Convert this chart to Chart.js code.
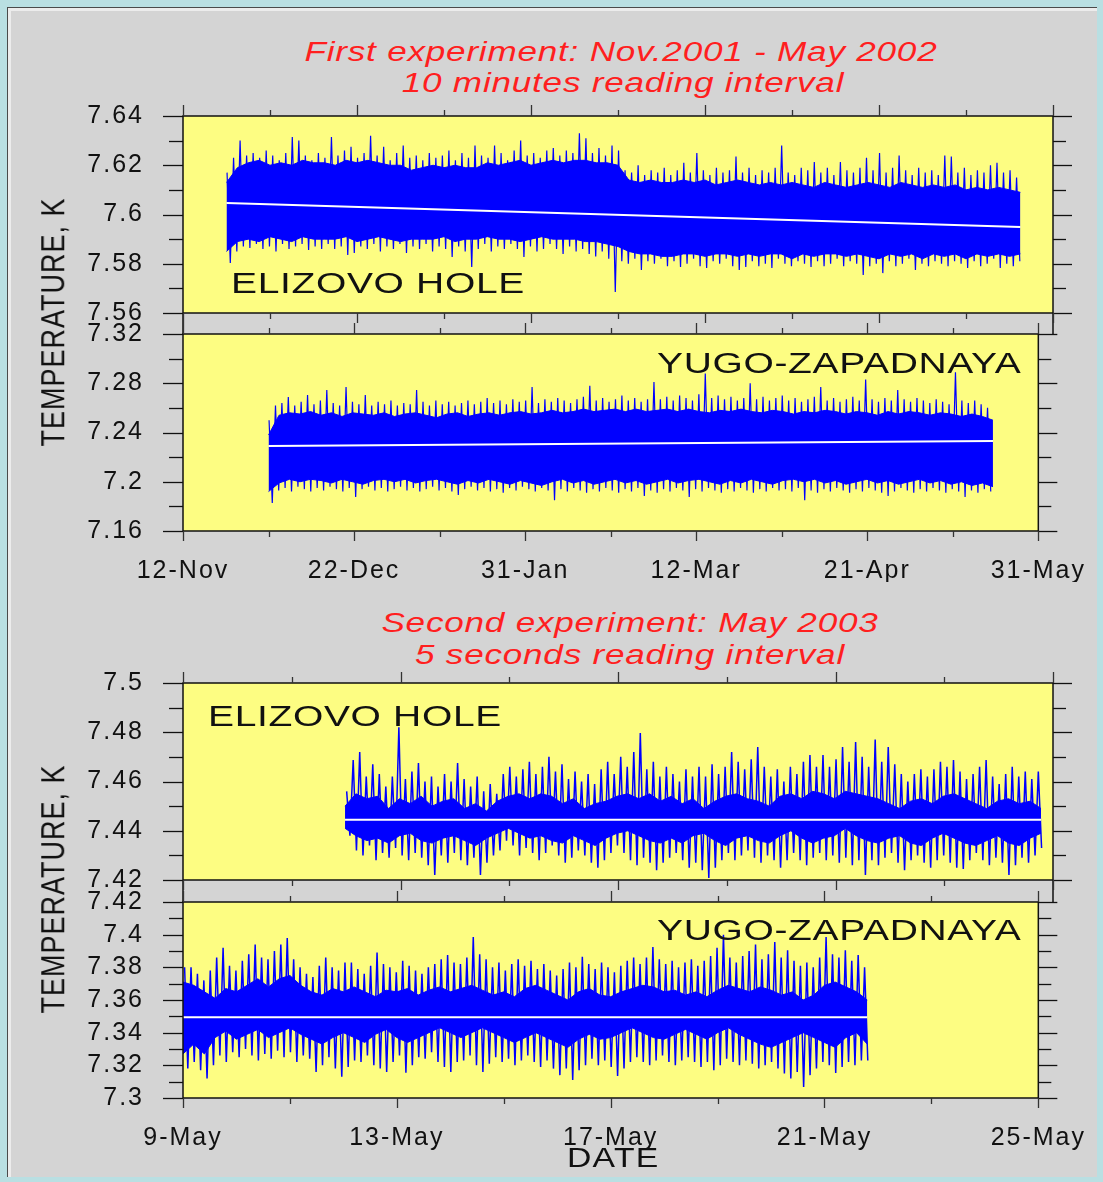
<!DOCTYPE html>
<html>
<head>
<meta charset="utf-8">
<script src="https://cdn.jsdelivr.net/npm/chart.js@4.4.0/dist/chart.umd.min.js"></script>
<style>
  html, body { margin: 0; padding: 0; }
  body { width: 1103px; height: 1182px; background: #b9dfe2; position: relative; overflow: hidden;
         font-family: "Liberation Sans", Arial, sans-serif; }
  #frame { position: absolute; left: 7px; top: 7px; width: 1089px; height: 1169px; background: #d4d4d4;
           border-left: 1px solid #4a4a4a; border-top: 1px solid #4a4a4a; box-shadow: inset 3px 3px 0 #ececec; }
  canvas { position: absolute; left: 0; }
  .ttl { position: absolute; width: 800px; text-align: center; color: #ff1f1f; font-style: italic;
         font-size: 27px; line-height: 30px; letter-spacing: 0.6px; white-space: nowrap;
         transform: scaleX(1.3); transform-origin: center; }
  .site { position: absolute; color: #111; font-size: 30px; line-height: 30px; letter-spacing: 0.5px; white-space: nowrap;
          transform: scaleX(1.3); transform-origin: left center; }
  .ytitle { position: absolute; width: 300px; text-align: center; color: #111; font-size: 27px; line-height: 30px;
            letter-spacing: 1px; transform: rotate(-90deg) scaleY(1.25); white-space: nowrap; }
  .xtitle { position: absolute; color: #111; font-size: 27px; line-height: 30px; letter-spacing: 1px;
            transform: scaleX(1.25); transform-origin: left center; }
</style>
</head>
<body>
<div id="frame"></div>

<div class="ttl" style="left:221px;top:37px">First experiment: Nov.2001 - May 2002</div>
<div class="ttl" style="left:223px;top:68px">10 minutes reading interval</div>
<div class="ttl" style="left:230px;top:608px">Second experiment: May 2003</div>
<div class="ttl" style="left:230px;top:640px">5 seconds reading interval</div>

<canvas id="p1" width="1103" height="297" style="top:66px"></canvas>
<canvas id="p2" width="1103" height="298" style="top:284px"></canvas>
<canvas id="p3" width="1103" height="297" style="top:633px"></canvas>
<canvas id="p4" width="1103" height="298" style="top:852px"></canvas>

<div class="site" style="left:231px;top:268px">ELIZOVO HOLE</div>
<div class="site" style="left:657px;top:348px">YUGO-ZAPADNAYA</div>
<div class="site" style="left:208px;top:701px">ELIZOVO HOLE</div>
<div class="site" style="left:657px;top:915px">YUGO-ZAPADNAYA</div>

<div class="ytitle" style="left:-97px;top:307px">TEMPERATURE, K</div>
<div class="ytitle" style="left:-97px;top:874px">TEMPERATURE, K</div>
<div class="xtitle" style="left:567px;top:1143px">DATE</div>

<script>
'use strict';

// ---- x axis (days from first tick) ----
const topXMajor = [0, 40, 80, 120, 160, 200];
const topXMinor = [20, 60, 100, 140, 180];
const topXLabels = ['12-Nov', '22-Dec', '31-Jan', '12-Mar', '21-Apr', '31-May'];
const botXMajor = [0, 4, 8, 12, 16];
const botXMinor = [2, 6, 10, 14];
const botXLabels = ['9-May', '13-May', '17-May', '21-May', '25-May'];

// ---- y axis ticks ----
const yTicks1 = [7.56, 7.58, 7.6, 7.62, 7.64];
const yLabels1 = ['7.56', '7.58', '7.6', '7.62', '7.64'];
const yMinor1 = [7.57, 7.59, 7.61, 7.63];
const yTicks2 = [7.16, 7.2, 7.24, 7.28, 7.32];
const yLabels2 = ['7.16', '7.2', '7.24', '7.28', '7.32'];
const yMinor2 = [7.18, 7.22, 7.26, 7.30];
const yTicks3 = [7.42, 7.44, 7.46, 7.48, 7.5];
const yLabels3 = ['7.42', '7.44', '7.46', '7.48', '7.5'];
const yMinor3 = [7.43, 7.45, 7.47, 7.49];
const yTicks4 = [7.3, 7.32, 7.34, 7.36, 7.38, 7.4, 7.42];
const yLabels4 = ['7.3', '7.32', '7.34', '7.36', '7.38', '7.4', '7.42'];
const yMinor4 = [7.31, 7.33, 7.35, 7.37, 7.39, 7.41];

// ---- panel 1: Elizovo hole, 10 min readings ----
// dense core of the trace, every 2.5 days from day 10
const coreStart1 = 10, coreStep1 = 2.5;
const coreHigh1 = [7.613, 7.619, 7.621, 7.622, 7.620, 7.621, 7.620, 7.622, 7.621, 7.621, 7.620, 7.622, 7.621, 7.622, 7.621, 7.620,
  7.620, 7.618, 7.619, 7.620, 7.619, 7.620, 7.619, 7.619, 7.621, 7.620, 7.621, 7.622, 7.620, 7.621, 7.622, 7.621,
  7.622, 7.622, 7.621, 7.621, 7.620, 7.614, 7.613, 7.614, 7.613, 7.613, 7.614, 7.613, 7.614, 7.612, 7.613, 7.614,
  7.613, 7.612, 7.613, 7.612, 7.613, 7.612, 7.611, 7.613, 7.612, 7.611, 7.612, 7.613, 7.612, 7.611, 7.613, 7.612,
  7.611, 7.612, 7.611, 7.612, 7.610, 7.611, 7.610, 7.611, 7.610, 7.609];
const coreLow1 = [7.585, 7.589, 7.590, 7.589, 7.591, 7.590, 7.589, 7.591, 7.590, 7.590, 7.590, 7.591, 7.589, 7.590, 7.591, 7.590,
  7.589, 7.590, 7.590, 7.590, 7.591, 7.589, 7.590, 7.590, 7.591, 7.590, 7.590, 7.589, 7.590, 7.591, 7.590, 7.590,
  7.590, 7.589, 7.589, 7.588, 7.587, 7.585, 7.584, 7.584, 7.583, 7.583, 7.584, 7.584, 7.583, 7.584, 7.584, 7.583,
  7.584, 7.583, 7.584, 7.584, 7.582, 7.584, 7.583, 7.584, 7.584, 7.583, 7.584, 7.583, 7.582, 7.584, 7.583, 7.584,
  7.582, 7.584, 7.583, 7.584, 7.582, 7.584, 7.583, 7.584, 7.583, 7.584];
// min / max of the readings in 1.5-day bins from day 10.5
const binStart1 = 10.5, binStep1 = 1.5;
const binHigh1 = [7.617, 7.623, 7.630, 7.624, 7.625, 7.623, 7.626, 7.624, 7.622, 7.625,
  7.6315, 7.630, 7.624, 7.622, 7.625, 7.623, 7.6315, 7.624, 7.626, 7.6275,
  7.623, 7.625, 7.632, 7.624, 7.6275, 7.622, 7.625, 7.628, 7.623, 7.624,
  7.622, 7.625, 7.623, 7.624, 7.626, 7.622, 7.625, 7.623, 7.628, 7.624,
  7.623, 7.628, 7.625, 7.622, 7.626, 7.630, 7.624, 7.625, 7.623, 7.626,
  7.627, 7.624, 7.626, 7.625, 7.633, 7.631, 7.625, 7.627, 7.624, 7.628,
  7.626, 7.618, 7.617, 7.620, 7.616, 7.618, 7.617, 7.619, 7.616, 7.618,
  7.621, 7.617, 7.625, 7.618, 7.616, 7.619, 7.617, 7.618, 7.6235, 7.617,
  7.619, 7.616, 7.618, 7.617, 7.619, 7.628, 7.617, 7.616, 7.619, 7.618,
  7.6213, 7.617, 7.619, 7.616, 7.6213, 7.618, 7.617, 7.619, 7.623, 7.618,
  7.625, 7.617, 7.619, 7.624, 7.618, 7.616, 7.619, 7.617, 7.618, 7.616,
  7.624, 7.6235, 7.617, 7.619, 7.616, 7.618, 7.617, 7.620, 7.621, 7.617,
  7.618, 7.615];
const binLow1 = [7.5803, 7.585, 7.587, 7.5864, 7.588, 7.586, 7.587, 7.585, 7.588, 7.586,
  7.587, 7.588, 7.5856, 7.587, 7.586, 7.588, 7.586, 7.587, 7.5836, 7.5844,
  7.587, 7.586, 7.588, 7.585, 7.587, 7.586, 7.588, 7.5844, 7.587, 7.586,
  7.588, 7.585, 7.587, 7.586, 7.5827, 7.587, 7.585, 7.5787, 7.586, 7.588,
  7.585, 7.587, 7.586, 7.588, 7.586, 7.5827, 7.587, 7.585, 7.586, 7.588,
  7.586, 7.584, 7.587, 7.585, 7.586, 7.584, 7.583, 7.585, 7.582, 7.5685,
  7.581, 7.580, 7.582, 7.5775, 7.581, 7.580, 7.582, 7.579, 7.581, 7.5787,
  7.580, 7.582, 7.579, 7.5783, 7.581, 7.580, 7.582, 7.579, 7.5775, 7.5787,
  7.581, 7.579, 7.580, 7.5783, 7.582, 7.580, 7.579, 7.581, 7.580, 7.5787,
  7.581, 7.579, 7.580, 7.582, 7.579, 7.581, 7.580, 7.5754, 7.579, 7.580,
  7.5762, 7.581, 7.579, 7.580, 7.582, 7.5775, 7.580, 7.579, 7.581, 7.580,
  7.579, 7.581, 7.580, 7.5783, 7.581, 7.579, 7.580, 7.582, 7.5783, 7.580,
  7.579, 7.581];
const trendDays1 = [10, 192.5];
const trend1 = [7.6047, 7.5949];

// ---- panel 2: Yugo-Zapadnaya, 10 min readings ----
const coreStart2 = 20, coreStep2 = 2.455;
const coreHigh2 = [7.238, 7.254, 7.256, 7.255, 7.257, 7.254, 7.256, 7.253, 7.256, 7.255, 7.254, 7.256, 7.253, 7.255, 7.256, 7.254,
  7.252, 7.255, 7.256, 7.253, 7.255, 7.256, 7.254, 7.256, 7.257, 7.255, 7.256, 7.258, 7.256, 7.257, 7.259, 7.257,
  7.258, 7.259, 7.257, 7.259, 7.257, 7.258, 7.259, 7.257, 7.259, 7.257, 7.256, 7.258, 7.257, 7.259, 7.257, 7.256,
  7.258, 7.257, 7.255, 7.257, 7.256, 7.258, 7.257, 7.255, 7.257, 7.256, 7.254, 7.257, 7.255, 7.257, 7.256, 7.254,
  7.256, 7.255, 7.253, 7.255, 7.253, 7.250];
const coreLow2 = [7.192, 7.199, 7.202, 7.200, 7.202, 7.201, 7.199, 7.202, 7.200, 7.198, 7.201, 7.202, 7.200, 7.202, 7.199, 7.201,
  7.202, 7.200, 7.198, 7.201, 7.199, 7.202, 7.200, 7.198, 7.201, 7.199, 7.197, 7.200, 7.202, 7.199, 7.201, 7.198,
  7.200, 7.202, 7.199, 7.201, 7.198, 7.200, 7.202, 7.199, 7.201, 7.202, 7.200, 7.198, 7.201, 7.199, 7.202, 7.200,
  7.198, 7.201, 7.202, 7.200, 7.202, 7.199, 7.201, 7.198, 7.200, 7.202, 7.199, 7.201, 7.198, 7.200, 7.202, 7.199,
  7.201, 7.198, 7.200, 7.197, 7.199, 7.196];
const binStart2 = 20.5, binStep2 = 1.5;
const binHigh2 = [7.250, 7.262, 7.264, 7.2688, 7.262, 7.265, 7.2705, 7.263, 7.266, 7.2745,
  7.264, 7.262, 7.277, 7.265, 7.263, 7.2705, 7.262, 7.265, 7.263, 7.266,
  7.262, 7.264, 7.263, 7.2745, 7.265, 7.262, 7.266, 7.263, 7.265, 7.262,
  7.264, 7.266, 7.263, 7.265, 7.268, 7.264, 7.266, 7.263, 7.267, 7.265,
  7.266, 7.277, 7.264, 7.267, 7.265, 7.268, 7.266, 7.264, 7.267, 7.269,
  7.278, 7.266, 7.268, 7.265, 7.267, 7.270, 7.266, 7.268, 7.265, 7.267,
  7.281, 7.267, 7.269, 7.266, 7.270, 7.268, 7.266, 7.271, 7.288, 7.268,
  7.270, 7.267, 7.269, 7.266, 7.268, 7.280, 7.267, 7.269, 7.266, 7.268,
  7.270, 7.266, 7.268, 7.265, 7.267, 7.269, 7.277, 7.266, 7.268, 7.265,
  7.267, 7.269, 7.266, 7.283, 7.267, 7.265, 7.268, 7.266, 7.2745, 7.267,
  7.265, 7.268, 7.266, 7.264, 7.267, 7.265, 7.263, 7.289, 7.266, 7.264,
  7.266, 7.263, 7.260];
const binLow2 = [7.1827, 7.193, 7.195, 7.192, 7.196, 7.194, 7.192, 7.195, 7.193, 7.196,
  7.194, 7.192, 7.195, 7.1876, 7.194, 7.196, 7.193, 7.195, 7.192, 7.194,
  7.196, 7.193, 7.195, 7.192, 7.194, 7.196, 7.193, 7.195, 7.192, 7.1892,
  7.194, 7.196, 7.193, 7.195, 7.192, 7.194, 7.191, 7.195, 7.193, 7.196,
  7.194, 7.192, 7.195, 7.193, 7.185, 7.194, 7.192, 7.195, 7.193, 7.191,
  7.194, 7.192, 7.195, 7.193, 7.191, 7.194, 7.192, 7.195, 7.1884, 7.193,
  7.191, 7.194, 7.192, 7.195, 7.193, 7.1876, 7.194, 7.192, 7.195, 7.193,
  7.191, 7.194, 7.192, 7.195, 7.193, 7.191, 7.194, 7.192, 7.195, 7.193,
  7.194, 7.192, 7.195, 7.185, 7.193, 7.191, 7.194, 7.192, 7.195, 7.193,
  7.191, 7.194, 7.192, 7.195, 7.193, 7.191, 7.1884, 7.192, 7.195, 7.193,
  7.191, 7.194, 7.192, 7.195, 7.193, 7.191, 7.194, 7.192, 7.1876, 7.193,
  7.191, 7.194, 7.192];
const trendDays2 = [20, 189.4];
const trend2 = [7.229, 7.233];

// ---- panel 3: Elizovo hole, 5 s readings ----
const coreStart3 = 2.98, coreStep3 = 0.2;
const coreHigh3 = [7.450, 7.455, 7.453, 7.454, 7.449, 7.453, 7.451, 7.454, 7.450, 7.452, 7.453, 7.449, 7.451, 7.448, 7.452, 7.454,
  7.455, 7.453, 7.455, 7.454, 7.451, 7.453, 7.449, 7.451, 7.452, 7.454, 7.455, 7.453, 7.455, 7.452, 7.454, 7.451,
  7.453, 7.449, 7.452, 7.454, 7.455, 7.453, 7.452, 7.450, 7.454, 7.455, 7.453, 7.456, 7.455, 7.453, 7.456, 7.455,
  7.454, 7.453, 7.451, 7.449, 7.452, 7.453, 7.451, 7.454, 7.455, 7.453, 7.451, 7.449, 7.452, 7.453, 7.451, 7.452, 7.449];
const coreLow3 = [7.441, 7.438, 7.436, 7.437, 7.435, 7.438, 7.439, 7.436, 7.435, 7.437, 7.438, 7.436, 7.434, 7.437, 7.439, 7.441,
  7.439, 7.437, 7.438, 7.436, 7.435, 7.438, 7.436, 7.434, 7.437, 7.439, 7.440, 7.438, 7.436, 7.435, 7.437, 7.435,
  7.438, 7.439, 7.436, 7.434, 7.437, 7.438, 7.436, 7.435, 7.438, 7.440, 7.437, 7.435, 7.437, 7.438, 7.441, 7.438,
  7.436, 7.435, 7.437, 7.438, 7.435, 7.434, 7.437, 7.439, 7.437, 7.435, 7.434, 7.436, 7.438, 7.435, 7.434, 7.437, 7.439];
const binStart3 = 3.04, binStep3 = 0.12;
const binHigh3 = [7.456, 7.4687, 7.472, 7.462, 7.467, 7.463, 7.458, 7.462, 7.482, 7.461,
  7.464, 7.4675, 7.460, 7.462, 7.458, 7.463, 7.460, 7.4675, 7.461, 7.458,
  7.462, 7.456, 7.459, 7.455, 7.463, 7.466, 7.462, 7.465, 7.468, 7.463,
  7.466, 7.470, 7.464, 7.467, 7.461, 7.464, 7.460, 7.463, 7.459, 7.465,
  7.468, 7.463, 7.470, 7.466, 7.472, 7.4797, 7.465, 7.468, 7.462, 7.466,
  7.463, 7.460, 7.465, 7.462, 7.466, 7.462, 7.467, 7.463, 7.466, 7.472,
  7.468, 7.465, 7.469, 7.474, 7.466, 7.462, 7.465, 7.460, 7.466, 7.463,
  7.468, 7.4708, 7.466, 7.4708, 7.466, 7.469, 7.474, 7.468, 7.476, 7.470,
  7.466, 7.477, 7.468, 7.474, 7.467, 7.463, 7.460, 7.463, 7.465, 7.462,
  7.465, 7.468, 7.466, 7.4687, 7.464, 7.461, 7.463, 7.466, 7.4687, 7.462,
  7.459, 7.463, 7.466, 7.462, 7.464, 7.461, 7.464];
const binLow3 = [7.438, 7.432, 7.430, 7.434, 7.428, 7.431, 7.429, 7.433, 7.430, 7.428,
  7.431, 7.429, 7.426, 7.422, 7.430, 7.427, 7.431, 7.428, 7.426, 7.429,
  7.422, 7.427, 7.430, 7.432, 7.436, 7.434, 7.430, 7.433, 7.431, 7.428,
  7.431, 7.434, 7.430, 7.427, 7.429, 7.432, 7.430, 7.427, 7.425, 7.428,
  7.431, 7.434, 7.431, 7.428, 7.426, 7.429, 7.427, 7.424, 7.427, 7.429,
  7.431, 7.428, 7.425, 7.427, 7.424, 7.4208, 7.425, 7.428, 7.431, 7.428,
  7.430, 7.432, 7.429, 7.427, 7.430, 7.428, 7.425, 7.428, 7.431, 7.428,
  7.426, 7.429, 7.431, 7.428, 7.430, 7.427, 7.429, 7.426, 7.428, 7.422,
  7.428, 7.426, 7.429, 7.431, 7.427, 7.424, 7.428, 7.430, 7.427, 7.425,
  7.428, 7.430, 7.427, 7.425, 7.4245, 7.428, 7.431, 7.428, 7.426, 7.429,
  7.427, 7.422, 7.426, 7.429, 7.427, 7.430, 7.433];
const trendDays3 = [2.98, 15.78];
const trend3 = [7.4445, 7.4445];

// ---- panel 4: Yugo-Zapadnaya, 5 s readings ----
const coreStart4 = 0, coreStep4 = 0.2;
const coreHigh4 = [7.371, 7.369, 7.365, 7.361, 7.367, 7.365, 7.369, 7.373, 7.368, 7.373, 7.375, 7.369, 7.365, 7.363, 7.367, 7.365,
  7.368, 7.365, 7.362, 7.366, 7.365, 7.367, 7.363, 7.366, 7.368, 7.365, 7.367, 7.369, 7.366, 7.363, 7.365, 7.362,
  7.367, 7.369, 7.366, 7.363, 7.360, 7.365, 7.367, 7.363, 7.362, 7.365, 7.367, 7.369, 7.368, 7.365, 7.366, 7.363,
  7.365, 7.362, 7.366, 7.369, 7.367, 7.365, 7.368, 7.366, 7.363, 7.365, 7.360, 7.363, 7.369, 7.371, 7.368, 7.365, 7.360];
const coreLow4 = [7.327, 7.333, 7.327, 7.337, 7.341, 7.336, 7.339, 7.342, 7.337, 7.340, 7.343, 7.339, 7.336, 7.333, 7.337, 7.340,
  7.337, 7.334, 7.339, 7.342, 7.337, 7.334, 7.337, 7.340, 7.343, 7.340, 7.337, 7.340, 7.343, 7.340, 7.337, 7.334,
  7.337, 7.340, 7.337, 7.334, 7.331, 7.336, 7.339, 7.336, 7.337, 7.340, 7.343, 7.340, 7.337, 7.336, 7.339, 7.342,
  7.339, 7.336, 7.340, 7.343, 7.339, 7.336, 7.333, 7.331, 7.334, 7.337, 7.340, 7.337, 7.334, 7.331, 7.337, 7.340, 7.333];
const binStart4 = 0.06, binStep4 = 0.12;
const binHigh4 = [7.380, 7.380, 7.376, 7.372, 7.378, 7.386, 7.392, 7.381, 7.378, 7.384,
  7.388, 7.394, 7.386, 7.385, 7.390, 7.394, 7.398, 7.385, 7.380, 7.376,
  7.374, 7.381, 7.386, 7.380, 7.378, 7.383, 7.383, 7.379, 7.376, 7.381,
  7.389, 7.382, 7.380, 7.377, 7.384, 7.381, 7.378, 7.376, 7.380, 7.382,
  7.385, 7.3875, 7.383, 7.382, 7.386, 7.3985, 7.388, 7.385, 7.380, 7.383,
  7.378, 7.382, 7.385, 7.381, 7.384, 7.379, 7.382, 7.378, 7.375, 7.379,
  7.383, 7.380, 7.3865, 7.382, 7.379, 7.383, 7.380, 7.377, 7.381, 7.384,
  7.386, 7.382, 7.386, 7.3925, 7.385, 7.382, 7.384, 7.380, 7.383, 7.385,
  7.381, 7.384, 7.387, 7.392, 7.400, 7.386, 7.383, 7.387, 7.390, 7.394,
  7.385, 7.388, 7.3955, 7.386, 7.3905, 7.384, 7.381, 7.383, 7.380, 7.386,
  7.3985, 7.388, 7.386, 7.3905, 7.384, 7.3875, 7.380];
const binLow4 = [7.318, 7.322, 7.317, 7.312, 7.320, 7.326, 7.322, 7.328, 7.325, 7.330,
  7.326, 7.323, 7.327, 7.324, 7.329, 7.325, 7.328, 7.322, 7.326, 7.324,
  7.316, 7.320, 7.325, 7.318, 7.313, 7.319, 7.323, 7.322, 7.326, 7.320,
  7.318, 7.316, 7.322, 7.326, 7.3155, 7.320, 7.325, 7.324, 7.328, 7.322,
  7.319, 7.316, 7.322, 7.323, 7.326, 7.320, 7.316, 7.321, 7.325, 7.322,
  7.324, 7.320, 7.323, 7.326, 7.322, 7.319, 7.323, 7.318, 7.314, 7.318,
  7.311, 7.317, 7.320, 7.324, 7.320, 7.323, 7.319, 7.3135, 7.318, 7.322,
  7.325, 7.322, 7.320, 7.323, 7.326, 7.322, 7.320, 7.323, 7.325, 7.322,
  7.319, 7.322, 7.317, 7.320, 7.324, 7.322, 7.320, 7.323, 7.321, 7.318,
  7.320, 7.322, 7.318, 7.315, 7.312, 7.316, 7.3067, 7.314, 7.318, 7.322,
  7.320, 7.3153, 7.319, 7.322, 7.320, 7.323, 7.323];
const trendDays4 = [0, 12.8];
const trend4 = [7.3495, 7.3495];

const PLOT_BG = '#fdfd82';
const TRACE = '#0000ff';

Chart.defaults.font.family = '"Liberation Sans", Arial, sans-serif';
Chart.defaults.font.size = 25;
Chart.defaults.color = '#111';

/**
 * Yellow plot background, frame and the minor/major tick marks on all four sides.
 */
const panelFrame = {
  id: 'panelFrame',
  beforeUpdate(chart) {
    chart.ctx.letterSpacing = '2px';
  },
  beforeDraw(chart) {
    const {ctx, chartArea: a} = chart;
    ctx.letterSpacing = '2px';
    ctx.save();
    ctx.fillStyle = PLOT_BG;
    ctx.fillRect(a.left, a.top, a.right - a.left, a.bottom - a.top);
    ctx.restore();
  },
  afterDraw(chart, args, opts) {
    const {ctx, chartArea: a, scales} = chart;
    const line = (x1, y1, x2, y2) => {
      ctx.beginPath();
      ctx.moveTo(x1, y1);
      ctx.lineTo(x2, y2);
      ctx.stroke();
    };
    ctx.save();
    ctx.strokeStyle = '#111';
    ctx.lineWidth = 1.5;
    ctx.strokeRect(a.left, a.top, a.right - a.left, a.bottom - a.top);
    if (opts.gap) {
      line(a.left, a.bottom, a.left, a.bottom + opts.gap);
      line(a.right, a.bottom, a.right, a.bottom + opts.gap);
    }
    ctx.lineWidth = 1.3;
    opts.yMajor.forEach(v => {
      const py = Math.round(scales.y.getPixelForValue(v)) + 0.5;
      line(a.left - 20, py, a.left, py);
      line(a.right, py, a.right + 19, py);
    });
    opts.yMinor.forEach(v => {
      const py = Math.round(scales.y.getPixelForValue(v)) + 0.5;
      line(a.left - 14, py, a.left, py);
      line(a.right, py, a.right + 13, py);
    });
    ctx.strokeStyle = '#333';
    opts.xMajor.forEach(v => {
      const px = Math.round(scales.x.getPixelForValue(v)) + 0.5;
      line(px, a.top - 11, px, a.top);
      line(px, a.bottom, px, a.bottom + 10);
    });
    opts.xMinor.forEach(v => {
      const px = Math.round(scales.x.getPixelForValue(v)) + 0.5;
      line(px, a.top - 6, px, a.top);
      line(px, a.bottom, px, a.bottom + 6);
    });
    ctx.restore();
  }
};

function series(start, step, values) {
  return values.map((v, i) => ({x: start + i * step, y: v}));
}

// the decimated trace: in every bin the line goes up to the bin maximum and down to the bin minimum
function trace(start, step, lows, highs) {
  const pts = [];
  lows.forEach((lo, i) => {
    const x = start + i * step;
    pts.push({x: x - step / 4, y: highs[i]});
    pts.push({x: x + step / 4, y: lo});
  });
  return pts;
}

function makePanel(id, p) {
  return new Chart(document.getElementById(id), {
    type: 'line',
    data: {
      datasets: [
        {data: p.trendDays.map((d, i) => ({x: d, y: p.trend[i]})), borderColor: '#ffffff', borderWidth: 2,
         pointRadius: 0, fill: false},
        {data: series(p.coreStart, p.coreStep, p.coreLow), borderColor: TRACE, borderWidth: 1, pointRadius: 0, fill: false},
        {data: series(p.coreStart, p.coreStep, p.coreHigh), borderColor: TRACE, borderWidth: 1, pointRadius: 0,
         backgroundColor: TRACE, fill: '-1'},
        {data: trace(p.binStart, p.binStep, p.binLow, p.binHigh), borderColor: TRACE, borderWidth: p.lineWidth,
         pointRadius: 0, fill: false}
      ]
    },
    options: {
      responsive: false,
      animation: false,
      events: [],
      layout: {padding: {left: 0, right: 50, top: 50, bottom: p.padBottom}},
      elements: {line: {tension: 0, borderJoinStyle: 'miter'}},
      plugins: {
        legend: {display: false},
        tooltip: {enabled: false},
        panelFrame: {xMajor: p.xMajor, xMinor: p.xMinor, yMajor: p.yTicks, yMinor: p.yMinor, gap: p.gap}
      },
      scales: {
        x: {
          type: 'linear', min: p.xMajor[0], max: p.xMajor[p.xMajor.length - 1], offset: false,
          display: p.xLabels !== null,
          grid: {display: false}, border: {display: false},
          afterBuildTicks: s => { s.ticks = p.xMajor.map(v => ({value: v})); },
          afterFit: s => { s.height = p.xHeight; },
          ticks: {padding: 17, autoSkip: false, maxRotation: 0,
                  callback: (v, i) => p.xLabels ? p.xLabels[i] : ''}
        },
        y: {
          type: 'linear', min: p.yTicks[0], max: p.yTicks[p.yTicks.length - 1],
          grid: {display: false}, border: {display: false},
          afterBuildTicks: s => { s.ticks = p.yTicks.map(v => ({value: v})); },
          afterFit: s => { s.width = 183; },
          ticks: {padding: 31, autoSkip: false, callback: (v, i) => p.yLabels[i]}
        }
      }
    },
    plugins: [panelFrame]
  });
}

makePanel('p1', {coreStart: coreStart1, coreStep: coreStep1, coreHigh: coreHigh1, coreLow: coreLow1,
  binStart: binStart1, binStep: binStep1, binHigh: binHigh1, binLow: binLow1, lineWidth: 1.2,
  trendDays: trendDays1, trend: trend1, xMajor: topXMajor, xMinor: topXMinor, xLabels: null,
  yTicks: yTicks1, yLabels: yLabels1, yMinor: yMinor1, padBottom: 50, xHeight: 0, gap: 21});
makePanel('p2', {coreStart: coreStart2, coreStep: coreStep2, coreHigh: coreHigh2, coreLow: coreLow2,
  binStart: binStart2, binStep: binStep2, binHigh: binHigh2, binLow: binLow2, lineWidth: 1.2,
  trendDays: trendDays2, trend: trend2, xMajor: topXMajor, xMinor: topXMinor, xLabels: topXLabels,
  yTicks: yTicks2, yLabels: yLabels2, yMinor: yMinor2, padBottom: 0, xHeight: 51, gap: 0});
makePanel('p3', {coreStart: coreStart3, coreStep: coreStep3, coreHigh: coreHigh3, coreLow: coreLow3,
  binStart: binStart3, binStep: binStep3, binHigh: binHigh3, binLow: binLow3, lineWidth: 1.5,
  trendDays: trendDays3, trend: trend3, xMajor: botXMajor, xMinor: botXMinor, xLabels: null,
  yTicks: yTicks3, yLabels: yLabels3, yMinor: yMinor3, padBottom: 50, xHeight: 0, gap: 22});
makePanel('p4', {coreStart: coreStart4, coreStep: coreStep4, coreHigh: coreHigh4, coreLow: coreLow4,
  binStart: binStart4, binStep: binStep4, binHigh: binHigh4, binLow: binLow4, lineWidth: 1.5,
  trendDays: trendDays4, trend: trend4, xMajor: botXMajor, xMinor: botXMinor, xLabels: botXLabels,
  yTicks: yTicks4, yLabels: yLabels4, yMinor: yMinor4, padBottom: 0, xHeight: 52, gap: 0});
</script>
</body>
</html>
